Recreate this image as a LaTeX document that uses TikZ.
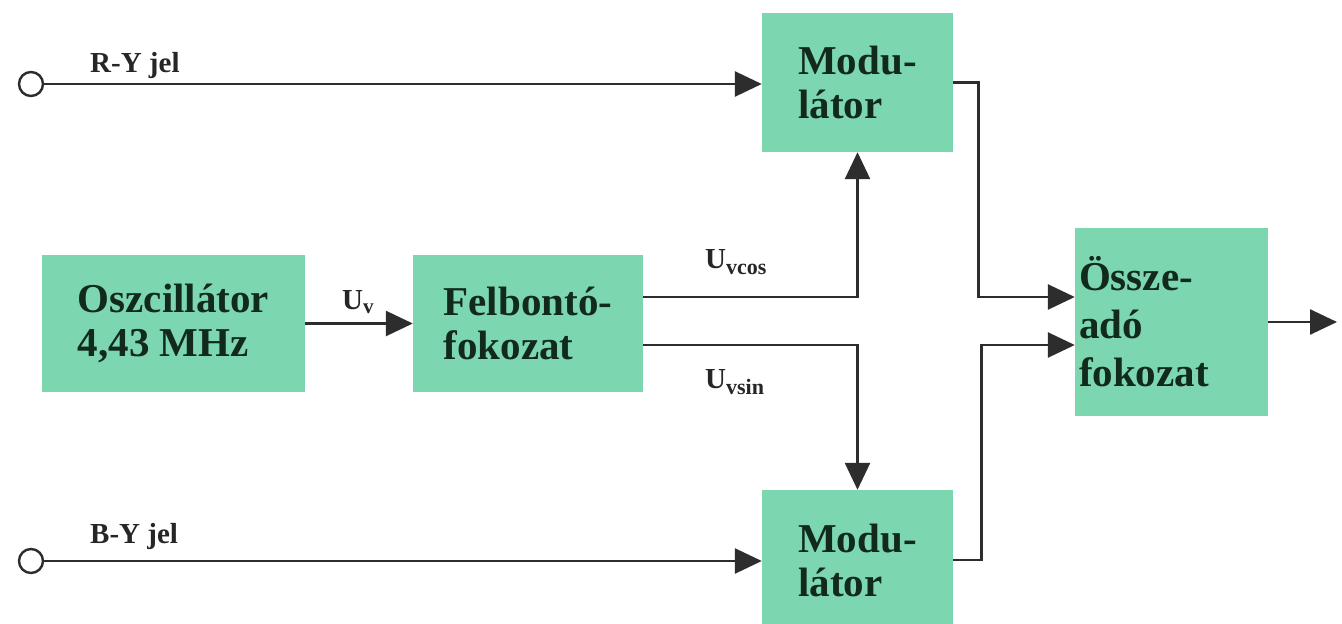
\documentclass[tikz,border=0pt]{standalone}
\usepackage{fontspec}
\setmainfont{Liberation Serif}
\usetikzlibrary{arrows.meta,calc}
\definecolor{boxgreen}{RGB}{124,214,176}
\definecolor{txt}{RGB}{18,42,28}
\definecolor{wirec}{RGB}{45,45,45}
\begin{document}
\begin{tikzpicture}[x=1pt,y=1pt,
  blk/.style={fill=boxgreen, draw=none, text=txt, font=\fontsize{41}{44}\selectfont\bfseries, align=left, inner sep=0pt},
  wire/.style={draw=wirec, line width=2.6pt},
  arr/.style={wire, -{Triangle[length=27pt,width=25pt]}},
  lbl/.style={text=black!85, font=\fontsize{29}{30}\selectfont\bfseries, inner sep=0pt, anchor=base west},
  term/.style={circle, draw=wirec, line width=2.4pt, minimum size=24pt, inner sep=0pt, fill=white}]
\useasboundingbox[fill=white] (0,0) rectangle (1342,-624);
% blocks
\node[blk, minimum width=263, minimum height=137] (osc) at (173.5,-323.5) {Oszcillátor\\4,43 MHz};
\node[blk, minimum width=230, minimum height=137] (felb) at (528,-323.5) {Felbontó-\\fokozat};
\node[blk, minimum width=191, minimum height=139] (modT) at (857.5,-82.5) {Modu-\\látor};
\node[blk, minimum width=191, minimum height=140] (modB) at (857.5,-560) {Modu-\\látor};
\node[blk, minimum width=193, minimum height=188, text width=185, inner xsep=4pt, font=\fontsize{41}{48}\selectfont\bfseries] (add) at (1171.5,-322) {Össze-\\adó\\fokozat};
% terminals
\node[term] (inR) at (31,-84) {};
\node[term] (inB) at (31,-561) {};
\coordinate (out) at (1337,-322);
% labels
\node[lbl] (lR) at (90,-72) {R-Y jel};
\node[lbl] (lB) at (90,-543) {B-Y jel};
\node[lbl] (lUv) at (342,-309) {U\raisebox{-4pt}{\fontsize{21}{22}\selectfont v}};
\node[lbl] (lUc) at (705,-268) {U\raisebox{-6pt}{\fontsize{22}{22}\selectfont vcos}};
\node[lbl] (lUs) at (705,-388) {U\raisebox{-6pt}{\fontsize{22}{22}\selectfont vsin}};
% connectors
\draw[arr] (inR.east) -- (inR.east -| modT.west);
\draw[arr] (inB.east) -- (inB.east -| modB.west);
\draw[arr] (osc) -- (felb);
\draw[arr] ($(felb.east)+(0,26.5)$) -| (modT.south);
\draw[arr] ($(felb.east)+(0,-21.5)$) -| (modB.north);
\draw[arr] (modT.east) -- ++(25,0) |- ($(add.west)+(0,25)$);
\draw[arr] (modB.east) -- ++(28,0) |- ($(add.west)+(0,-23)$);
\draw[arr] (add.east) -- (out);
\end{tikzpicture}
\end{document}
